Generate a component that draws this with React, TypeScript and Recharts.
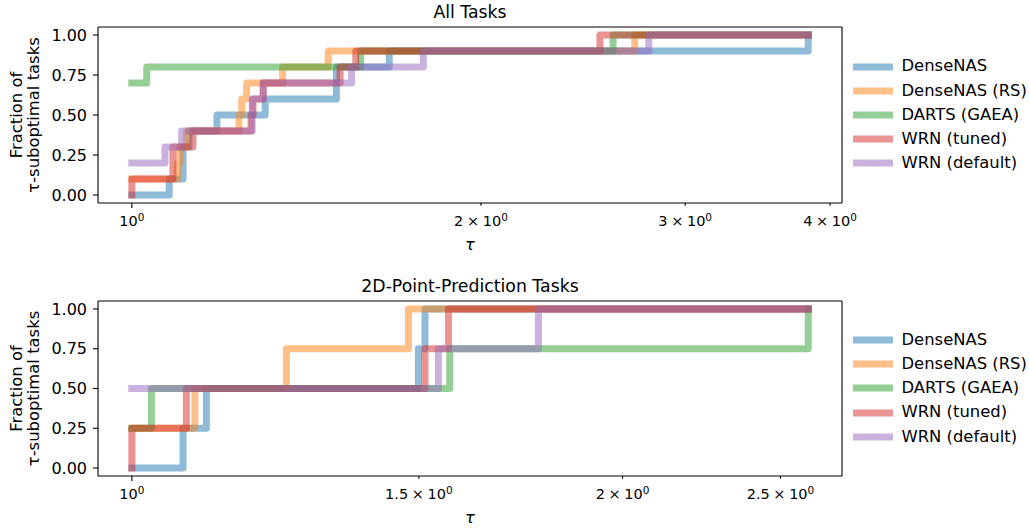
import React from "react";
import { LineChart, Line, XAxis, YAxis, Legend, ReferenceLine } from "recharts";

const FONT = "DejaVu Sans, sans-serif";

const seriesNames = ["DenseNAS", "DenseNAS (RS)", "DARTS (GAEA)", "WRN (tuned)", "WRN (default)"];
const seriesColors = ["#1f77b4", "#ff7f0e", "#2ca02c", "#d62728", "#9467bd"];

// All Tasks: [tau, fraction of tau-suboptimal tasks]
const allDenseNAS = [[1, 0], [1.077, 0.1], [1.107, 0.3], [1.12, 0.4], [1.184, 0.5], [1.303, 0.6], [1.501, 0.8], [1.667, 0.9], [3.83, 1.0]];
const allDenseNASRS = [[1, 0.1], [1.095, 0.2], [1.1, 0.3], [1.115, 0.4], [1.237, 0.5], [1.244, 0.6], [1.256, 0.7], [1.349, 0.8], [1.477, 0.9], [2.714, 1.0], [3.83, 1.0]];
const allDarts = [[1, 0.7], [1.03, 0.8], [1.575, 0.9], [2.6, 1.0], [3.83, 1.0]];
const allWrnTuned = [[1, 0], [1, 0.1], [1.085, 0.3], [1.129, 0.4], [1.267, 0.5], [1.272, 0.6], [1.298, 0.7], [1.512, 0.8], [1.56, 0.9], [2.533, 1.0], [3.83, 1.0]];
const allWrnDefault = [[1, 0.2], [1.068, 0.3], [1.104, 0.4], [1.27, 0.6], [1.298, 0.7], [1.547, 0.8], [1.784, 0.9], [2.791, 1.0], [3.83, 1.0]];

// 2D-Point-Prediction Tasks
const ptDenseNAS = [[1, 0], [1.075, 0.25], [1.111, 0.5], [1.499, 0.75], [1.513, 1.0], [2.6, 1.0]];
const ptDenseNASRS = [[1, 0.25], [1.093, 0.5], [1.244, 0.75], [1.478, 1.0], [2.6, 1.0]];
const ptDarts = [[1, 0.25], [1.028, 0.5], [1.567, 0.75], [2.6, 1.0]];
const ptWrnTuned = [[1, 0], [1, 0.25], [1.08, 0.5], [1.513, 0.75], [1.564, 1.0], [2.6, 1.0]];
const ptWrnDefault = [[1, 0.5], [1.542, 0.75], [1.776, 1.0], [2.6, 1.0]];

const yTicks = [0, 0.25, 0.5, 0.75, 1];
const yDomain = [-0.05, 1.05];
const allXTicks = [1, 2, 3, 4];
const allXLabels = ["10", "2\u2005×\u200510", "3\u2005×\u200510", "4\u2005×\u200510"];
const ptXTicks = [1, 1.5, 2, 2.5];
const ptXLabels = ["10", "1.5\u2005×\u200510", "2\u2005×\u200510", "2.5\u2005×\u200510"];

const toPoints = (pairs) => pairs.map(([tau, frac]) => ({ tau, frac }));

const LogTick = ({ x, y, payload, ticks, labels }) => {
  const i = ticks.indexOf(payload.value);
  const len = payload.value === 1 ? 5 : 2.8;
  return (
    <g>
      <line x1={x} x2={x} y1={y} y2={y + len} stroke="#000" strokeWidth={1.1} />
      <text x={x} y={y + 23} textAnchor="middle" fontFamily={FONT} fontSize={14.5} fill="#000">
        {labels[i]}
        <tspan dy={-4.8} fontSize={10.5}>0</tspan>
      </text>
    </g>
  );
};

const renderLegend = () => (
  <div style={{ fontFamily: FONT, fontSize: 16.4, color: "#000" }}>
    {seriesNames.map((n, i) => (
      <div key={n} style={{ display: "flex", alignItems: "center", height: 24.2 }}>
        <svg width={40} height={10} style={{ display: "block" }}>
          <line x1={0} x2={40} y1={5} y2={5} stroke={seriesColors[i]} strokeOpacity={0.5} strokeWidth={7} />
        </svg>
        <span style={{ marginLeft: 8.5, whiteSpace: "nowrap", lineHeight: 1 }}>{n}</span>
      </div>
    ))}
  </div>
);

const Panel = ({ series, domain, xTicks, xLabels, marginTop, xAxisHeight, legendTop }) => (
  <LineChart width={1029} height={264} margin={{ top: marginTop, right: 187, bottom: 0, left: 0 }}>
    <XAxis
      xAxisId="b"
      dataKey="tau"
      type="number"
      scale="log"
      domain={domain}
      allowDataOverflow
      ticks={xTicks}
      interval={0}
      height={xAxisHeight}
      tickLine={false}
      tickSize={0}
      tickMargin={0}
      axisLine={{ stroke: "#000", strokeWidth: 1.1 }}
      tick={(p) => <LogTick {...p} ticks={xTicks} labels={xLabels} />}
    />
    <YAxis
      yAxisId="l"
      type="number"
      domain={yDomain}
      allowDataOverflow
      ticks={yTicks}
      interval={0}
      width={98}
      tickSize={5}
      tickMargin={6}
      tickFormatter={(v) => v.toFixed(2)}
      tick={{ fill: "#000", fontSize: 16, fontFamily: FONT }}
      tickLine={{ stroke: "#000", strokeWidth: 1.1 }}
      axisLine={{ stroke: "#000", strokeWidth: 1.1 }}
    />
    {/* top and right spines */}
    <ReferenceLine xAxisId="b" yAxisId="l" y={yDomain[1]} stroke="#000" strokeWidth={1.1} ifOverflow="visible" />
    <ReferenceLine xAxisId="b" yAxisId="l" x={domain[1]} stroke="#000" strokeWidth={1.1} ifOverflow="visible" />
    {series.map((s, i) => (
      <Line
        key={seriesNames[i]}
        xAxisId="b"
        yAxisId="l"
        data={toPoints(s)}
        dataKey="frac"
        name={seriesNames[i]}
        type="stepAfter"
        stroke={seriesColors[i]}
        strokeOpacity={0.5}
        strokeWidth={7}
        strokeLinejoin="round"
        strokeLinecap="square"
        dot={false}
        activeDot={false}
        isAnimationActive={false}
      />
    ))}
    <Legend
      layout="horizontal"
      verticalAlign="middle"
      align="center"
      content={renderLegend}
      wrapperStyle={{ left: 853, top: legendTop, width: 176, margin: 0 }}
    />
  </LineChart>
);

export default function App() {
  return (
    <div style={{ position: "absolute", left: 0, top: 0, width: 1029, height: 528, background: "#fff" }}>
      <div style={{ position: "absolute", left: 0, top: 0 }}>
        <Panel
          series={[allDenseNAS, allDenseNASRS, allDarts, allWrnTuned, allWrnDefault]}
          domain={[0.935, 4.096]}
          xTicks={allXTicks}
          xLabels={allXLabels}
          marginTop={27}
          xAxisHeight={61}
          legendTop={54.5}
        />
      </div>
      <div style={{ position: "absolute", left: 0, top: 264 }}>
        <Panel
          series={[ptDenseNAS, ptDenseNASRS, ptDarts, ptWrnTuned, ptWrnDefault]}
          domain={[0.9533, 2.727]}
          xTicks={ptXTicks}
          xLabels={ptXLabels}
          marginTop={37}
          xAxisHeight={52}
          legendTop={64}
        />
      </div>
      <svg width={1029} height={528} style={{ position: "absolute", left: 0, top: 0, pointerEvents: "none" }}>
        <g fontFamily={FONT} fill="#000">
          <text x={470} y={18} textAnchor="middle" fontSize={17.3}>All Tasks</text>
          <text x={470} y={291.5} textAnchor="middle" fontSize={17.3}>2D-Point-Prediction Tasks</text>
          <text x={470} y={250} textAnchor="middle" fontSize={16.4} fontStyle="italic">τ</text>
          <text x={470} y={523} textAnchor="middle" fontSize={16.4} fontStyle="italic">τ</text>
          <text transform="translate(21.5,115) rotate(-90)" textAnchor="middle" fontSize={16.4}>Fraction of</text>
          <text transform="translate(38.5,115) rotate(-90)" textAnchor="middle" fontSize={16.4}>τ-suboptimal tasks</text>
          <text transform="translate(21.5,388.5) rotate(-90)" textAnchor="middle" fontSize={16.4}>Fraction of</text>
          <text transform="translate(38.5,388.5) rotate(-90)" textAnchor="middle" fontSize={16.4}>τ-suboptimal tasks</text>
        </g>
      </svg>
    </div>
  );
}
